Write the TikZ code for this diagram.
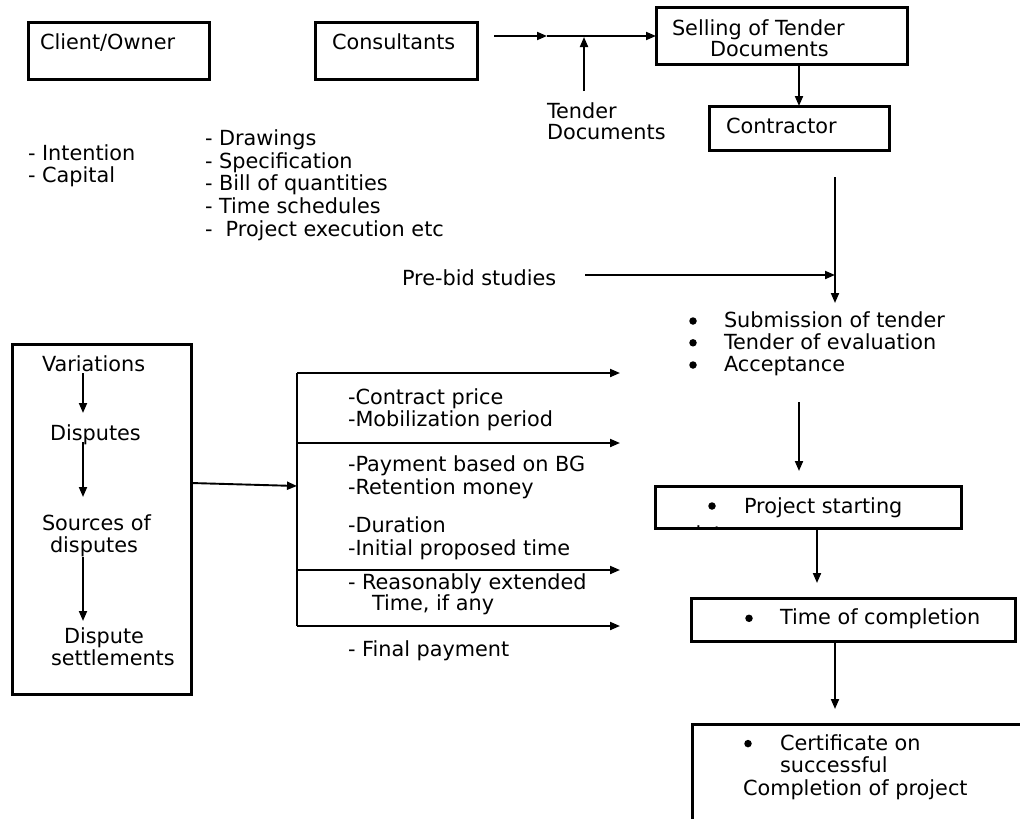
\documentclass[tikz,border=0pt]{standalone}
\usepackage{fontspec}
\setmainfont{DejaVu Sans}
\usetikzlibrary{arrows.meta}
\begin{document}
\begin{tikzpicture}[x=1pt,y=-1pt,
 box/.style={draw, line width=3pt, inner sep=0pt, outer sep=0pt},
 conn/.style={line width=1.9pt, -{Triangle[length=10pt,width=8pt]}},
 plain/.style={line width=1.6pt},
 txt/.style={anchor=base west, inner sep=0pt, outer sep=0pt, font=\fontsize{20.8}{22.6}\selectfont},
 bul/.style={circle, fill, inner sep=0pt, minimum size=7.5pt},
]
\useasboundingbox (0,0) rectangle (1020,819);
\clip (0,0) rectangle (1020,819);

% boxes
\node[box, minimum width=181pt, minimum height=57pt] (client) at (118.5,50.5) {};
\node[box, minimum width=162pt, minimum height=57pt] (consult) at (396,50.5) {};
\node[box, minimum width=251pt, minimum height=57pt] (selling) at (781.5,35.5) {};
\node[box, minimum width=180pt, minimum height=44pt] (contractor) at (799,128) {};
\node[box, minimum width=179pt, minimum height=350pt] (disp) at (101.5,519) {};
\node[box, minimum width=306pt, minimum height=42pt] (project) at (808,507) {};
\node[box, minimum width=324pt, minimum height=43pt] (completion) at (853,619.5) {};
\node[box, minimum width=400pt, minimum height=200pt, anchor=north west] (cert) at (692,724) {};

% box texts
\node[txt] (tclient) at (40,49) {Client/Owner};
\node[txt] (tconsult) at (332,49) {Consultants};
\node[txt] (tsell1) at (672,35) {Selling of Tender};
\node[txt] (tsell2) at (710,56.5) {Documents};
\node[txt] (tcontr) at (726,133) {Contractor};

% free texts
\node[txt] (tender1) at (547,118) {Tender};
\node[txt] (tender2) at (547,139.5) {Documents};
\node[txt] (own1) at (28,160) {- Intention};
\node[txt] (own2) at (28,182.7) {- Capital};
\node[txt] (cons1) at (205,145.7) {- Drawings};
\node[txt] (cons2) at (205,168.3) {- Specification};
\node[txt] (cons3) at (205,190.9) {- Bill of quantities};
\node[txt] (cons4) at (205,213.5) {- Time schedules};
\node[txt] (cons5) at (205,236.1) {-\ \ Project execution etc};
\node[txt] (prebid) at (402,285.7) {Pre-bid studies};
\node[bul] (b1) at (693,321) {};
\node[bul] (b2) at (693,342.8) {};
\node[bul] (b3) at (693,365) {};
\node[txt] (sub1) at (724,327.7) {Submission of tender};
\node[txt] (sub2) at (724,349.5) {Tender of evaluation};
\node[txt] (sub3) at (724,371.7) {Acceptance};

% dispute box texts
\node[txt] (var) at (42,371.7) {Variations};
\node[txt] (dis) at (50,440) {Disputes};
\node[txt] (src1) at (42,530) {Sources of};
\node[txt] (src2) at (50,552.7) {disputes};
\node[txt] (set1) at (64,643.3) {Dispute};
\node[txt] (set2) at (51,665.7) {settlements};

% contract items
\node[txt] (c1) at (348,404) {-Contract price};
\node[txt] (c2) at (348,426.7) {-Mobilization period};
\node[txt] (c3) at (348,471.7) {-Payment based on BG};
\node[txt] (c4) at (348,494) {-Retention money};
\node[txt] (c5) at (348,532.7) {-Duration};
\node[txt] (c6) at (348,555) {-Initial proposed time};
\node[txt] (c7) at (348,589.3) {- Reasonably extended};
\node[txt] (c8) at (372,610.7) {Time, if any};
\node[txt] (c9) at (348,656.7) {- Final payment};

% project / completion / certificate texts
\node[bul] (pb) at (712,506) {};
\node[txt] (pt) at (744,513.3) {Project starting};
\begin{scope}
\clip (655,486) rectangle (961,526.5);
\node[txt] (pdate) at (688,541) {date};
\end{scope}
\node[bul] (cb) at (749,618.3) {};
\node[txt] (ct) at (780,624.3) {Time of completion};
\node[bul] (eb) at (748,743.6) {};
\node[txt] (et1) at (780,750.7) {Certificate on};
\node[txt] (et2) at (780,772.7) {successful};
\node[txt] (et3) at (743,795) {Completion of project};

% coordinates for free connector ends
\coordinate (j0) at (494,36);
\coordinate (j1) at (547,36);
\coordinate (tdtop) at (584,91);
\coordinate (tdend) at (584,37);
\coordinate (v1s) at (835,177);
\coordinate (v1e) at (835,303);
\coordinate (pbs) at (585,275);
\coordinate (pbe) at (835,275);
\coordinate (v2s) at (799,402);
\coordinate (v2e) at (799,471);
\coordinate (v3e) at (817,583);
\coordinate (v4e) at (835,709);
\coordinate (ds) at (191,483);
\coordinate (de) at (297,486);
\coordinate (brt) at (297,373);
\coordinate (brb) at (297,626);

% connectors
\draw[conn] (j0) -- (j1);
\draw[conn] (j1) -- (j1 -| selling.west);
\draw[conn] (tdtop) -- (tdend);
\draw[conn] (selling.south -| contractor.north) -- (contractor.north);
\draw[conn] (v1s) -- (v1e);
\draw[conn] (pbs) -- (pbe);
\draw[conn] (v2s) -- (v2e);
\draw[conn] (project.south -| v3e) -- (v3e);
\draw[conn] (completion.south -| v4e) -- (v4e);
\draw[conn] (ds) -- (de);
\draw[plain] (brt) -- (brb);
\foreach \yy in {373,443,570,626}{
  \draw[conn] (297,\yy) -- (620,\yy);
}
\draw[conn] (83,373) -- (83,413);
\draw[conn] (83,442) -- (83,497);
\draw[conn] (83,557) -- (83,621);
\end{tikzpicture}
\end{document}
